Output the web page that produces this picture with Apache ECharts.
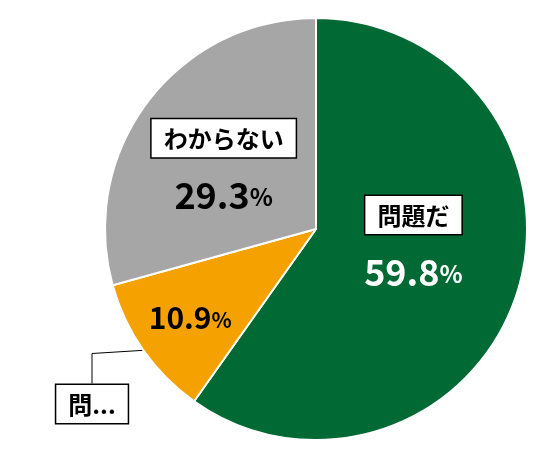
<!DOCTYPE html>
<html><head><meta charset="utf-8">
<script src="https://cdn.jsdelivr.net/npm/echarts@6/dist/echarts.min.js"></script>
<style>html,body{margin:0;padding:0;background:#fff}#c{width:536px;height:456px}</style>
</head><body><div id="c"></div>
<script>
const categories = ['問題だ', '問題ない', 'わからない'];
const values = [59.8, 10.9, 29.3];
const colors = ['#006934', '#F5A200', '#A6A6A6'];
const font = '"Noto Sans CJK JP", sans-serif';
const rich = {
  box: {fontFamily: font, fontSize: 24, fontWeight: 'bold', color: '#000', backgroundColor: '#fff', borderColor: '#000', borderWidth: 1.5, padding: [8, 12, 6, 12]},
  numW: {fontFamily: font, fontSize: 36, fontWeight: 'bold', color: '#fff', padding: [14, 0, 0, 0]},
  pctW: {fontFamily: font, fontSize: 24, fontWeight: 'bold', color: '#fff', padding: [18, 0, 0, 0]},
  numB: {fontFamily: font, fontSize: 36, fontWeight: 'bold', color: '#000', padding: [14, 0, 0, 0]},
  pctB: {fontFamily: font, fontSize: 24, fontWeight: 'bold', color: '#000', padding: [18, 0, 0, 0]},
  num: {fontFamily: font, fontSize: 30, fontWeight: 'bold', color: '#000'},
  pct: {fontFamily: font, fontSize: 21, fontWeight: 'bold', color: '#000', padding: [6, 0, 0, 0]}
};
const innerData = categories.map((c, i) => {
  const v = values[i].toFixed(1);
  let fmt, offset = [0, 0];
  if (i === 0) { fmt = '{box|' + c + '}\n{numW|' + v + '}{pctW|%}'; offset = [-6, -22]; }
  else if (i === 2) { fmt = '{box|' + c + '}\n{numB|' + v + '}{pctB|%}'; offset = [-6, 0]; }
  else { fmt = '{num|' + v + '}{pct|%}'; offset = [-37, 26]; }
  return {name: c, value: values[i], itemStyle: {color: colors[i]}, label: {formatter: fmt, offset: offset}};
});
const outerData = categories.map((c, i) => ({
  name: c, value: values[i], itemStyle: {color: 'transparent'},
  label: {show: i === 1, formatter: '{box|' + c + '}'},
  labelLine: {show: i === 1}
}));
const chart = echarts.init(document.getElementById('c'));
chart.setOption({
  animation: false,
  series: [
    {type: 'pie', center: [316, 229], radius: [0, 211], startAngle: 90, clockwise: true,
     itemStyle: {borderColor: '#fff', borderWidth: 2},
     label: {show: true, position: 'inside', rich: rich, align: 'center', lineHeight: 50},
     labelLine: {show: false}, data: innerData},
    {type: 'pie', center: [316, 229], radius: [0, 211], startAngle: 90, clockwise: true, silent: true,
     label: {position: 'outside', rich: rich},
     labelLine: {lineStyle: {color: '#000', width: 1}},
     labelLayout: function (p) { return p.dataIndex === 1 ? {x: 92, y: 404, align: 'center', verticalAlign: 'middle'} : {}; },
     data: outerData}
  ]
});
</script></body></html>
